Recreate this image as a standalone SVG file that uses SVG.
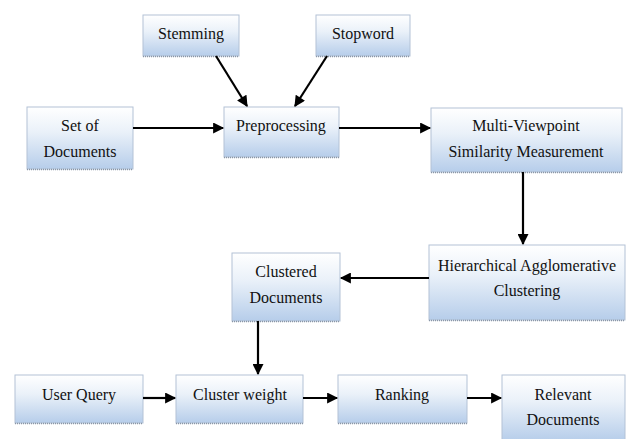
<svg xmlns="http://www.w3.org/2000/svg" width="626" height="439" viewBox="0 0 626 439">
<defs>
<linearGradient id="g" x1="0" y1="0" x2="0" y2="1">
<stop offset="0" stop-color="#ffffff"/>
<stop offset="0.4" stop-color="#eaf1f9"/>
<stop offset="1" stop-color="#b6cdea"/>
</linearGradient>
<marker id="ah" viewBox="0 0 10 10" refX="9" refY="5" markerWidth="5.5" markerHeight="5" orient="auto" markerUnits="strokeWidth">
<path d="M0,0 L10,5 L0,10 z" fill="#000"/>
</marker>
</defs>
<style>
.box{fill:url(#g);stroke:#b3c2d6;stroke-width:1}
.sh{stroke:#8a96a6;stroke-width:1.5;stroke-dasharray:1 1}
text{font-family:"Liberation Serif","Times New Roman",serif;font-size:16px;fill:#111;text-anchor:middle}
.c line{stroke:#000;stroke-width:2.2;marker-end:url(#ah)}
</style>
<rect width="626" height="439" fill="#fff"/>
<g id="stemming"><rect class="box" x="143" y="15" width="96" height="41"/><line class="sh" x1="143" y1="56.5" x2="239" y2="56.5"/><text x="191" y="39">Stemming</text></g>
<g id="stopword"><rect class="box" x="316" y="15" width="94" height="41"/><line class="sh" x1="316" y1="56.5" x2="410" y2="56.5"/><text x="363" y="39">Stopword</text></g>
<g id="preprocessing"><rect class="box" x="224" y="107" width="115" height="50"/><line class="sh" x1="224" y1="157.5" x2="339" y2="157.5"/><text x="281" y="131">Preprocessing</text></g>
<g id="setofdocs"><rect class="box" x="27" y="107" width="106" height="62"/><line class="sh" x1="27" y1="169.5" x2="133" y2="169.5"/><text x="80" y="131">Set of</text><text x="80" y="157">Documents</text></g>
<g id="mvs"><rect class="box" x="431" y="108" width="191" height="64"/><line class="sh" x1="431" y1="172.5" x2="622" y2="172.5"/><text x="526" y="131">Multi-Viewpoint</text><text x="526" y="157">Similarity Measurement</text></g>
<g id="hac"><rect class="box" x="429" y="245" width="196" height="75"/><line class="sh" x1="429" y1="320.5" x2="625" y2="320.5"/><text x="527" y="271">Hierarchical Agglomerative</text><text x="527" y="296">Clustering</text></g>
<g id="clustered"><rect class="box" x="232" y="253" width="108" height="68"/><line class="sh" x1="232" y1="321.5" x2="340" y2="321.5"/><text x="286" y="277">Clustered</text><text x="286" y="303">Documents</text></g>
<g id="userquery"><rect class="box" x="15" y="375" width="128" height="48"/><line class="sh" x1="15" y1="423.5" x2="143" y2="423.5"/><text x="79" y="400">User Query</text></g>
<g id="clusterweight"><rect class="box" x="176" y="375" width="127" height="48"/><line class="sh" x1="176" y1="423.5" x2="303" y2="423.5"/><text x="240" y="400">Cluster weight</text></g>
<g id="ranking"><rect class="box" x="338" y="375" width="129" height="48"/><line class="sh" x1="338" y1="423.5" x2="467" y2="423.5"/><text x="402" y="400">Ranking</text></g>
<g id="relevant"><rect class="box" x="502" y="375" width="123" height="66"/><text x="563" y="400">Relevant</text><text x="563" y="425">Documents</text></g>
<g class="c" id="connectors">
<line x1="216" y1="56" x2="247" y2="106"/>
<line x1="327" y1="56" x2="295" y2="106"/>
<line x1="133" y1="128" x2="223" y2="128"/>
<line x1="339" y1="128" x2="430" y2="128"/>
<line x1="523" y1="172" x2="523" y2="244"/>
<line x1="429" y1="278" x2="341" y2="278"/>
<line x1="258" y1="321" x2="258" y2="374"/>
<line x1="143" y1="398" x2="175" y2="398"/>
<line x1="303" y1="398" x2="337" y2="398"/>
<line x1="467" y1="398" x2="501" y2="398"/>
</g>
</svg>
